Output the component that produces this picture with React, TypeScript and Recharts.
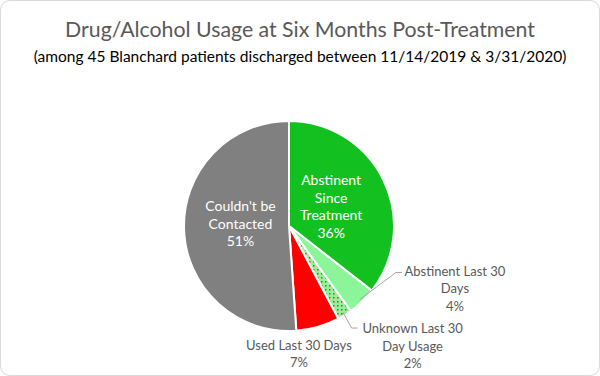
import { PieChart, Pie, Cell } from "recharts";

const categories = [
  "Abstinent Since Treatment",
  "Abstinent Last 30 Days",
  "Unknown Last 30 Day Usage",
  "Used Last 30 Days",
  "Couldn't be Contacted",
];
const patientCounts = [16, 2, 1, 3, 23];
const percentLabels = ["36%", "4%", "2%", "7%", "51%"];
const labelLines = [
  ["Abstinent", "Since", "Treatment"],
  ["Abstinent Last 30", "Days"],
  ["Unknown Last 30", "Day Usage"],
  ["Used Last 30 Days"],
  ["Couldn't be", "Contacted"],
];

const colors = ["#12c11f", "#8cf59a", "url(#dots)", "#ff0000", "#808080"];

// label placement per slice: inside text (with a nudge), or outside with an elbow leader line
const labelLayout: any[] = [
  { inside: true, nudge: [-6, 3] },
  { elbow: [34, -29], text: [59, -2] },
  { elbow: [7, 13], text: [61, 0] },
  { text: [-19, 18], noLine: true },
  { inside: true, nudge: [5, -5] },
];

const data = categories.map((name, i) => ({ name, value: patientCounts[i] }));

const RAD = Math.PI / 180;
const font = "Lato, 'Open Sans', sans-serif";

function renderLabel(props: any) {
  const { cx, cy, midAngle, outerRadius, index } = props;
  const layout = labelLayout[index];
  const lines = [...labelLines[index], percentLabels[index]];
  const cos = Math.cos(-midAngle * RAD);
  const sin = Math.sin(-midAngle * RAD);
  if (layout.inside) {
    const r = outerRadius * 0.51;
    const x = cx + r * cos + layout.nudge[0];
    const y = cy + r * sin + layout.nudge[1];
    const top = y - ((lines.length - 1) * 17.5) / 2;
    return (
      <text x={x} y={top} fill="#ffffff" textAnchor="middle" fontSize={14} fontFamily={font} dominantBaseline="central">
        {lines.map((l, i) => (
          <tspan key={i} x={x} y={top + i * 17.5}>
            {l}
          </tspan>
        ))}
      </text>
    );
  }
  const ex = cx + outerRadius * cos;
  const ey = cy + outerRadius * sin;
  let tx = ex + layout.text[0];
  let ty = ey + layout.text[1];
  let line = null;
  if (!layout.noLine) {
    const bx = ex + layout.elbow[0];
    const by = ey + layout.elbow[1];
    tx = bx + layout.text[0];
    ty = by + layout.text[1];
    line = (
      <polyline
        points={`${ex - 3 * cos},${ey - 3 * sin} ${bx},${by} ${bx + 6},${by}`}
        fill="none"
        stroke="#a6a6a6"
        strokeWidth={1}
      />
    );
  }
  return (
    <g>
      {line}
      <text x={tx} y={ty} fill="#595959" textAnchor="middle" fontSize={13} fontFamily={font} dominantBaseline="central">
        {lines.map((l, i) => (
          <tspan key={i} x={tx} y={ty + i * 17.5}>
            {l}
          </tspan>
        ))}
      </text>
    </g>
  );
}

export default function App() {
  return (
    <div
      style={{
        position: "absolute",
        left: 0,
        top: 0,
        width: 598,
        height: 374,
        border: "1px solid #d9d9d9",
        borderRadius: 10,
        background: "#fff",
        fontFamily: font,
        overflow: "hidden",
      }}
    >
      <div style={{ position: "absolute", top: 15, width: "100%", textAlign: "center", fontSize: 21.3, color: "#595959" }}>
        Drug/Alcohol Usage at Six Months Post-Treatment
      </div>
      <div style={{ position: "absolute", top: 46, width: "100%", textAlign: "center", fontSize: 15.5, color: "#000" }}>
        (among 45 Blanchard patients discharged between 11/14/2019 &amp; 3/31/2020)
      </div>
      <div style={{ position: "absolute", left: -1, top: -1 }}>
        <PieChart width={600} height={376} margin={{ top: 0, right: 0, bottom: 0, left: 0 }}>
          <defs>
            <pattern id="dots" width={4} height={4} patternUnits="userSpaceOnUse">
              <rect width={4} height={4} fill="#8cf59a" />
              <rect x={1} y={1} width={1.5} height={1.5} fill="#ff2020" />
            </pattern>
          </defs>
          <Pie
            data={data}
            dataKey="value"
            nameKey="name"
            cx={289}
            cy={226}
            outerRadius={105}
            startAngle={90}
            endAngle={-270}
            stroke="#ffffff"
            strokeWidth={2}
            label={renderLabel}
            labelLine={false}
            isAnimationActive={false}
          >
            {data.map((d, i) => (
              <Cell key={d.name} fill={colors[i]} />
            ))}
          </Pie>
        </PieChart>
      </div>
    </div>
  );
}
